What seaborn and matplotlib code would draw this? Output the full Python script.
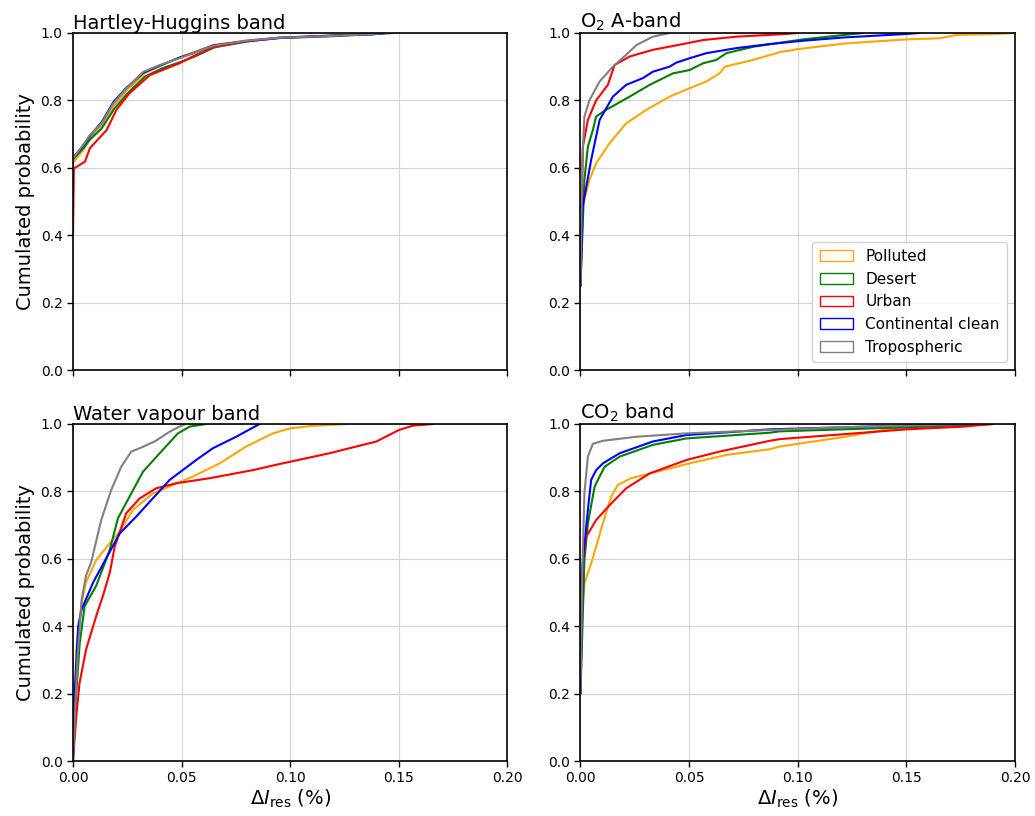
import numpy as np, matplotlib
matplotlib.use("Agg")
import matplotlib.pyplot as plt
from matplotlib.patches import Patch
import seaborn as sns

sns.set_theme(style="ticks")
plt.rcParams["font.family"] = ["DejaVu Sans"]
plt.rcParams["mathtext.fontset"] = "dejavusans"
plt.rcParams.update({"text.color": "black", "axes.labelcolor": "black",
                     "xtick.color": "black", "ytick.color": "black"})

LABELS = ["Polluted", "Desert", "Urban", "Continental clean", "Tropospheric"]
COLORS = ["orange", "green", "red", "blue", "gray"]
TITLES = ["Hartley-Huggins band", r"O$_2$ A-band", "Water vapour band", r"CO$_2$ band"]

# Hartley-Huggins band
hh_polluted_x = [0, 0, 0.005, 0.008, 0.013, 0.019, 0.025, 0.033, 0.041, 0.05, 0.056, 0.065, 0.08, 0.095, 0.118, 0.14]
hh_polluted_y = [0.58, 0.615, 0.655, 0.69, 0.725, 0.785, 0.832, 0.88, 0.905, 0.93, 0.944, 0.965, 0.978, 0.986, 0.992, 1.0]
hh_desert_x = [0, 0, 0.005, 0.008, 0.013, 0.019, 0.025, 0.033, 0.041, 0.05, 0.056, 0.065, 0.08, 0.095, 0.118, 0.14, 0.147]
hh_desert_y = [0.58, 0.625, 0.66, 0.685, 0.715, 0.775, 0.82, 0.87, 0.895, 0.915, 0.93, 0.957, 0.975, 0.985, 0.99, 0.997, 1.0]
hh_urban_x = [0, 0.0004, 0.0055, 0.0078, 0.0155, 0.020, 0.026, 0.0354, 0.049, 0.055, 0.0646, 0.080, 0.095, 0.118, 0.14]
hh_urban_y = [0.40, 0.598, 0.618, 0.658, 0.712, 0.772, 0.821, 0.875, 0.91, 0.93, 0.958, 0.975, 0.985, 0.991, 1.0]
hh_clean_x = [0, 0, 0.0047, 0.0078, 0.0132, 0.0186, 0.0247, 0.0324, 0.040, 0.049, 0.0553, 0.0646, 0.080, 0.095, 0.118, 0.138, 0.144]
hh_clean_y = [0.58, 0.63, 0.665, 0.695, 0.735, 0.795, 0.838, 0.882, 0.903, 0.927, 0.94, 0.963, 0.976, 0.986, 0.992, 0.996, 1.0]
hh_tropo_x = [0, 0, 0.0047, 0.0078, 0.0132, 0.0186, 0.0247, 0.0324, 0.040, 0.049, 0.0553, 0.0646, 0.080, 0.095, 0.118, 0.138, 0.145]
hh_tropo_y = [0.58, 0.628, 0.668, 0.697, 0.732, 0.791, 0.836, 0.885, 0.905, 0.925, 0.94, 0.962, 0.977, 0.986, 0.991, 0.997, 1.0]

# O2 A-band
o2_polluted_x = [0, 0.001, 0.0041, 0.0072, 0.0134, 0.021, 0.0303, 0.041, 0.0502, 0.0579, 0.064, 0.0664, 0.0794, 0.0917, 0.10, 0.122, 0.15, 0.165, 0.173, 0.191, 0.20]
o2_polluted_y = [0.25, 0.485, 0.564, 0.613, 0.673, 0.732, 0.772, 0.811, 0.836, 0.856, 0.88, 0.90, 0.92, 0.943, 0.952, 0.969, 0.981, 0.984, 0.994, 0.997, 1.0]
o2_desert_x = [0, 0.0018, 0.0034, 0.0057, 0.0072, 0.0118, 0.0226, 0.0318, 0.0425, 0.0502, 0.0564, 0.0625, 0.0671, 0.0794, 0.1024, 0.13]
o2_desert_y = [0.25, 0.564, 0.663, 0.712, 0.752, 0.772, 0.811, 0.846, 0.88, 0.89, 0.91, 0.92, 0.94, 0.959, 0.981, 1.0]
o2_urban_x = [0, 0.0011, 0.0034, 0.0072, 0.0126, 0.0149, 0.0157, 0.0226, 0.0333, 0.0487, 0.0564, 0.0717, 0.0948, 0.10]
o2_urban_y = [0.25, 0.663, 0.742, 0.80, 0.846, 0.89, 0.905, 0.93, 0.95, 0.969, 0.979, 0.989, 0.997, 1.0]
o2_clean_x = [0, 0.001, 0.0049, 0.0088, 0.0149, 0.021, 0.0287, 0.0333, 0.041, 0.0441, 0.0502, 0.0579, 0.0717, 0.087, 0.1024, 0.122, 0.15, 0.156]
o2_clean_y = [0.25, 0.485, 0.623, 0.742, 0.811, 0.846, 0.866, 0.885, 0.90, 0.912, 0.925, 0.94, 0.955, 0.967, 0.977, 0.987, 0.997, 1.0]
o2_tropo_x = [0, 0.0008, 0.0018, 0.0041, 0.0088, 0.0149, 0.0218, 0.0257, 0.0333, 0.041]
o2_tropo_y = [0.25, 0.62, 0.752, 0.80, 0.856, 0.90, 0.94, 0.964, 0.989, 1.0]

# Water vapour band
wv_polluted_x = [0, 0.0015, 0.004, 0.006, 0.0107, 0.0169, 0.0215, 0.0276, 0.0368, 0.046, 0.0552, 0.0675, 0.0797, 0.092, 0.10, 0.11, 0.126]
wv_polluted_y = [0, 0.33, 0.47, 0.53, 0.596, 0.646, 0.68, 0.745, 0.794, 0.819, 0.844, 0.883, 0.933, 0.972, 0.987, 0.994, 1.0]
wv_desert_x = [0, 0.0015, 0.0031, 0.0054, 0.0107, 0.0169, 0.0207, 0.026, 0.0322, 0.0399, 0.0483, 0.0537, 0.0613]
wv_desert_y = [0, 0.2, 0.35, 0.46, 0.52, 0.626, 0.72, 0.784, 0.858, 0.913, 0.972, 0.992, 1.0]
wv_urban_x = [0, 0.0015, 0.003, 0.006, 0.0107, 0.0138, 0.017, 0.0192, 0.0245, 0.0307, 0.0383, 0.0475, 0.0629, 0.0828, 0.095, 0.118, 0.1397, 0.150, 0.1565, 0.166]
wv_urban_y = [0, 0.13, 0.23, 0.33, 0.43, 0.49, 0.56, 0.636, 0.735, 0.779, 0.809, 0.824, 0.839, 0.863, 0.881, 0.913, 0.948, 0.982, 0.995, 1.0]
wv_clean_x = [0, 0.0008, 0.0024, 0.004, 0.0093, 0.0161, 0.0215, 0.0291, 0.0353, 0.0445, 0.0567, 0.0644, 0.0751, 0.0859]
wv_clean_y = [0, 0.2, 0.40, 0.45, 0.53, 0.611, 0.675, 0.725, 0.769, 0.834, 0.893, 0.928, 0.962, 1.0]
wv_tropo_x = [0, 0.002, 0.004, 0.006, 0.0084, 0.013, 0.0176, 0.0222, 0.0268, 0.0307, 0.0376, 0.0445, 0.0506, 0.052]
wv_tropo_y = [0, 0.3, 0.48, 0.55, 0.59, 0.715, 0.804, 0.873, 0.918, 0.928, 0.948, 0.977, 0.997, 1.0]

# CO2 band
co2_polluted_x = [0, 0.0008, 0.0018, 0.0049, 0.0072, 0.0103, 0.0141, 0.0172, 0.0233, 0.0349, 0.0502, 0.067, 0.0871, 0.0917, 0.122, 0.142, 0.16, 0.19]
co2_polluted_y = [0.2, 0.448, 0.527, 0.586, 0.636, 0.705, 0.784, 0.819, 0.839, 0.858, 0.883, 0.908, 0.925, 0.933, 0.962, 0.985, 0.992, 1.0]
co2_desert_x = [0, 0.0018, 0.0034, 0.0065, 0.0088, 0.0111, 0.018, 0.0333, 0.0487, 0.0871, 0.0917, 0.15, 0.19]
co2_desert_y = [0.2, 0.596, 0.705, 0.814, 0.844, 0.873, 0.903, 0.938, 0.957, 0.974, 0.978, 0.99, 1.0]
co2_urban_x = [0, 0.0003, 0.0026, 0.0072, 0.0134, 0.021, 0.0318, 0.0487, 0.064, 0.0871, 0.0917, 0.122, 0.15, 0.176, 0.19]
co2_urban_y = [0.2, 0.547, 0.665, 0.715, 0.759, 0.809, 0.853, 0.893, 0.918, 0.950, 0.955, 0.970, 0.984, 0.992, 1.0]
co2_clean_x = [0, 0.0011, 0.0034, 0.0049, 0.0072, 0.0103, 0.018, 0.0333, 0.0487, 0.0717, 0.0871, 0.12, 0.15, 0.18]
co2_clean_y = [0.2, 0.596, 0.745, 0.834, 0.863, 0.883, 0.913, 0.948, 0.967, 0.977, 0.984, 0.99, 0.995, 1.0]
co2_tropo_x = [0, 0.0008, 0.0018, 0.0034, 0.0057, 0.0103, 0.0257, 0.0487, 0.0871, 0.12, 0.15, 0.18]
co2_tropo_y = [0.2, 0.547, 0.794, 0.903, 0.941, 0.950, 0.962, 0.972, 0.982, 0.99, 0.995, 1.0]

panels = [
    [(hh_polluted_x, hh_polluted_y), (hh_desert_x, hh_desert_y), (hh_urban_x, hh_urban_y),
     (hh_clean_x, hh_clean_y), (hh_tropo_x, hh_tropo_y)],
    [(o2_polluted_x, o2_polluted_y), (o2_desert_x, o2_desert_y), (o2_urban_x, o2_urban_y),
     (o2_clean_x, o2_clean_y), (o2_tropo_x, o2_tropo_y)],
    [(wv_polluted_x, wv_polluted_y), (wv_desert_x, wv_desert_y), (wv_urban_x, wv_urban_y),
     (wv_clean_x, wv_clean_y), (wv_tropo_x, wv_tropo_y)],
    [(co2_polluted_x, co2_polluted_y), (co2_desert_x, co2_desert_y), (co2_urban_x, co2_urban_y),
     (co2_clean_x, co2_clean_y), (co2_tropo_x, co2_tropo_y)],
]

fig, axes = plt.subplots(2, 2, figsize=(10.35, 8.16), dpi=100, sharex=True)
fig.subplots_adjust(left=0.0705, right=0.9807, top=0.9596, bottom=0.0674, wspace=0.168, hspace=0.16)

for k, ax in enumerate(axes.flat):
    for (xs, ys), color in zip(panels[k], COLORS):
        sns.lineplot(x=xs, y=ys, color=color, lw=1.5, ax=ax, sort=False, estimator=None)
    ax.set_xlim(0, 0.20); ax.set_ylim(0, 1.0)
    ax.set_xticks([0, 0.05, 0.10, 0.15, 0.20])
    ax.set_yticks([0, 0.2, 0.4, 0.6, 0.8, 1.0])
    ax.set_xticklabels(["0.00", "0.05", "0.10", "0.15", "0.20"])
    ax.set_yticklabels(["0.0", "0.2", "0.4", "0.6", "0.8", "1.0"])
    ax.grid(True, color="#d4d4d4", lw=0.8)
    ax.set_axisbelow(True)
    ax.tick_params(direction="out", length=4, width=1, colors="black", labelsize=10)
    for s in ax.spines.values():
        s.set_color("black"); s.set_linewidth(1.2)
    ax.set_title(TITLES[k], loc="left", fontsize=14, pad=3, color="black")

for ax in axes[0]:
    ax.tick_params(labelbottom=False)
for ax in axes[1]:
    ax.set_xlabel(r"$\Delta I_{\rm res}$ (%)", fontsize=14, labelpad=2)
for ax in axes[:, 0]:
    ax.set_ylabel("Cumulated probability", fontsize=14)

handles = [Patch(facecolor="none", edgecolor=c, label=l) for c, l in zip(COLORS, LABELS)]
axes[0, 1].legend(handles=handles, loc="lower right", fontsize=11, frameon=True,
                  framealpha=0.9, edgecolor="#cccccc", borderpad=0.5, handlelength=2.2)

fig.savefig("out.png", dpi=100, facecolor="white")
